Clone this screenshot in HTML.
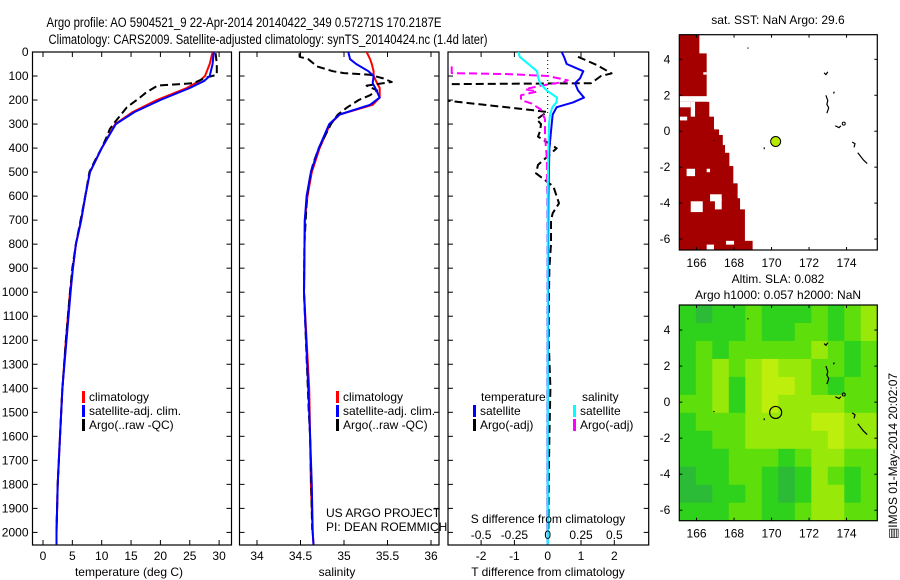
<!DOCTYPE html>
<html><head><meta charset="utf-8"><style>
html,body{margin:0;padding:0;background:#fff;}
svg{display:block;font-family:"Liberation Sans",sans-serif;}
</style></head><body>
<svg id="fig" width="900" height="580" viewBox="0 0 900 580" xmlns="http://www.w3.org/2000/svg">
<rect width="900" height="580" fill="#fff"/>
<text x="244" y="27" font-size="13.5" text-anchor="middle" textLength="395" lengthAdjust="spacingAndGlyphs">Argo profile: AO 5904521_9 22-Apr-2014 20140422_349 0.57271S 170.2187E</text>
<text x="268" y="44" font-size="13.5" text-anchor="middle" textLength="439" lengthAdjust="spacingAndGlyphs">Climatology: CARS2009. Satellite-adjusted climatology: synTS_20140424.nc (1.4d later)</text>
<g id="g"></g>
</svg>
<script>
// ---------- data ----------
const tempDepth = [0,50,100,120,150,200,250,300,400,500,600,700,800,900,1000,1200,1400,1600,1800,2000,2050];
const tempClim  = [28.9,28.4,27.6,26.7,24.5,19.4,15.3,12.3,10.0,8.0,7.2,6.5,5.6,5.1,4.6,3.9,3.3,2.9,2.5,2.3,2.3];
const tempSat   = [29.1,28.9,28.4,27.5,25.0,20.0,15.6,12.4,10.0,8.0,7.2,6.5,5.6,5.1,4.7,4.0,3.3,2.9,2.5,2.3,2.3];
const tempArgoDepth = [5,50,95,105,115,130,140,170,190,230,260,290,320,350,400,450,500,600,700,800,900,1000,1200,1400,1600,1800,1990];
const tempArgo  = [29.4,29.6,29.6,28.0,27.0,25.6,19.5,17.5,16.5,14.3,13.3,12.3,11.4,10.9,10.0,8.9,7.9,7.2,6.4,5.6,5.0,4.6,3.9,3.3,2.9,2.5,2.3];
const salDepth = [0,30,50,80,100,130,150,190,220,260,300,400,500,600,700,1000,1400,1600,1800,2000,2050];
const salClim  = [35.26,35.30,35.32,35.34,35.34,35.38,35.41,35.41,35.33,34.95,34.84,34.72,34.63,34.58,34.55,34.54,34.60,34.61,34.62,34.64,34.65];
const salSat   = [35.05,35.07,35.14,35.28,35.34,35.33,35.36,35.41,35.30,34.95,34.83,34.71,34.62,34.57,34.55,34.54,34.59,34.61,34.63,34.64,34.65];
const salArgoDepth = [5,20,30,60,80,88,95,110,125,140,160,180,200,230,260,300,350,400,460,500,600,800,1000,1500,1600,1990];
const salArgo  = [34.49,34.49,34.59,34.69,34.87,35.0,35.30,35.45,35.55,35.26,35.38,35.30,35.17,35.04,34.93,34.85,34.78,34.71,34.65,34.62,34.575,34.545,34.54,34.595,34.61,34.635];
const diffDepth = [0,20,50,80,110,130,160,190,210,230,260,300,400,600,1000,1500,2050];
const tDiffSat  = [0.42,0.49,0.57,1.07,0.97,0.82,0.91,1.09,0.76,0.27,0.15,0.12,0.05,0.02,0.01,0.0,0.0];
const sDiffSat  = [-0.22,-0.21,-0.145,-0.08,-0.07,-0.058,-0.008,0.07,0.065,0.035,0.017,0.01,0.005,0.0,0.0,0.0,0.0];
const sArgoDepth = [60,88,92,100,118,125,140,155,165,180,200,215,240,280,350,450,600,800,1200,1600,1990];
const sDiffArgo  = [-0.72,-0.72,-0.3,0.0,0.15,0.12,-0.05,-0.17,-0.08,-0.2,-0.2,-0.12,-0.05,-0.02,-0.02,-0.005,-0.003,-0.002,-0.002,-0.002,-0.002];
const tArgoDepth = [20,54,89,100,130,134,200,241,250,280,300,330,352,401,470,505,560,630,671,700,800,900,1000,1200,1400,1600,1800,1990];
const tDiffArgo  = [0.91,1.47,1.92,1.6,1.3,-3.2,-3.2,-0.53,-0.02,-0.33,-0.2,-0.23,-0.29,0.27,-0.29,-0.35,0.17,0.34,0.15,0.1,0.1,0.05,0.04,0.03,0.08,0.05,0.03,0.02];
const depthTicks = [0,100,200,300,400,500,600,700,800,900,1000,1100,1200,1300,1400,1500,1600,1700,1800,1900,2000];
const tempTicks = [0,5,10,15,20,25,30];
const salTicks = [34,34.5,35,35.5,36];
const tDiffTicks = [-2,-1,0,1,2];
const sDiffTicks = [-0.5,-0.25,0,0.25,0.5];
const sDiffTickLabels = ["-0.5","-0.25","0","0.25","0.5"];
const lonTicks = [166,168,170,172,174];
const latTicks = [4,2,0,-2,-4,-6];
const argoLon = 170.2187, argoLat = -0.5727;
const sstBandTop = [5.37,4.33,1.64,0.81,0.1,-0.21,-0.77,-1.2,-1.94,-2.9,-3.73,-4.35,-6.1];
const sstBandBot = [4.33,1.64,0.81,0.1,-0.21,-0.77,-1.2,-1.94,-2.9,-3.73,-4.35,-6.1,-6.61];
const sstBandLon = [166.15,166.54,166.68,166.93,167.2,167.4,167.52,167.75,167.96,168.19,168.32,168.58,168.99];
const sstHoles = [[1.95,1.64,165.08,166.7],[1.64,1.33,165.08,165.69],[1.64,0.81,165.69,165.92],[0.81,0.6,165.08,165.5],[3.28,3.15,166.36,166.54],[-2.09,-2.5,165.47,165.92],[-2.09,-2.28,166.54,166.72],[-3.9,-4.5,165.69,166.33],[-3.51,-3.9,166.72,167.34],[-3.73,-4.35,166.98,167.34],[-6.1,-6.31,167.57,168.0],[-6.31,-6.61,166.54,166.93]];
const slaGrid = [
[1,0,1,1,2,1,1,1,2,1,2,3],
[1,1,1,1,2,1,1,2,2,1,2,3],
[1,2,1,2,2,2,2,2,3,2,1,2],
[1,2,3,2,3,4,3,3,2,2,1,2],
[1,2,3,1,3,4,4,3,2,1,2,2],
[2,2,3,1,3,4,3,3,3,3,2,2],
[1,2,2,2,3,3,3,3,4,4,3,3],
[1,1,2,2,3,3,3,3,3,4,3,3],
[1,1,1,2,2,2,1,2,3,3,2,2],
[0,1,1,2,2,1,0,1,3,2,1,2],
[0,0,1,1,2,1,0,1,3,3,1,2],
[1,1,1,2,2,1,1,2,3,3,2,2]];
const slaColors = ["#2cbb36","#2ed21c","#5ede0a","#98e80a","#bdee0c"];

// ---------- helpers ----------
const NS="http://www.w3.org/2000/svg";
const G=document.getElementById('g');
function mk(tag,at,parent){const e=document.createElementNS(NS,tag);for(const k in at)e.setAttribute(k,at[k]);(parent||G).appendChild(e);return e;}
function txt(x,y,s,size,anchor,parent){const t=mk('text',{x:x,y:y,'font-size':size,'text-anchor':anchor||'middle'},parent);t.textContent=s;return t;}
const Y=d=>52+d*0.2402;
const TOP=52,BOT=545;

function panel(name,x0,x1,xs,xt,xtl,showDepth){
  const g=mk('g',{});
  
  
  const cp=mk('clipPath',{id:'cp-'+name},g);
  mk('rect',{x:x0,y:TOP,width:x1-x0,height:BOT-TOP},cp);
  const frame=mk('rect',{x:x0,y:TOP,width:x1-x0,height:BOT-TOP,fill:'none',stroke:'#000','stroke-width':1.2},g);
  
  
  depthTicks.forEach(d=>{
    const y=Y(d);
    mk('line',{x1:x0,y1:y,x2:x0+5,y2:y,stroke:'#000'},g);
    mk('line',{x1:x1-5,y1:y,x2:x1,y2:y,stroke:'#000'},g);
    if(showDepth){const t=txt(x0-4,y+4,String(d),12,'end',g);
      
      }
  });
  xt.forEach((v,i)=>{
    const x=xs(v);
    mk('line',{x1:x,y1:TOP,x2:x,y2:TOP+5,stroke:'#000'},g);
    mk('line',{x1:x,y1:BOT-5,x2:x,y2:BOT,stroke:'#000'},g);
    const t=txt(x,560,xtl?xtl[i]:String(v),12,'middle',g);
    
    
  });
  const lines=mk('g',{'clip-path':'url(#cp-'+name+')'},g);
  return lines;
}
function series(parent,name,depths,vals,xs,color,dashed){
  const pts=depths.map((d,i)=>xs(vals[i]).toFixed(1)+','+Y(d).toFixed(1)).join(' ');
  const p=mk('polyline',{points:pts,fill:'none',stroke:color,'stroke-width':2,'stroke-dasharray':dashed?'8,4':'none','stroke-linejoin':'round'},parent);
  
  
}
function legend(parent,x,y,color,label,name){
  const r=mk('rect',{x:x,y:y-10,width:3,height:12,fill:color},parent);
  
  
  const t=txt(x+7,y,label,12,'start',parent);
  
  
}

// ---------- temperature panel ----------
const xT=v=>43+v*5.87;
const pT=panel('temperature-panel',32.5,231.5,xT,tempTicks,null,true);
series(pT,'temp-climatology-line',tempDepth,tempClim,xT,'#ff0000',false);
series(pT,'temp-argo-line',tempArgoDepth,tempArgo,xT,'#000',true);
series(pT,'temp-satellite-line',tempDepth,tempSat,xT,'#0000ff',false);
legend(G,82,401,'#ff0000','climatology','legend-climatology');
legend(G,82,415,'#0000ff','satellite-adj. clim.','legend-satellite');
legend(G,82,429,'#000','Argo(..raw -QC)','legend-argo');
let t=txt(129,576,'temperature (deg C)',12);



// ---------- salinity panel ----------
const xS=v=>257+(v-34)*87;
const pS=panel('salinity-panel',239.5,439,xS,salTicks,null,false);
series(pS,'sal-climatology-line',salDepth,salClim,xS,'#ff0000',false);
series(pS,'sal-argo-line',salArgoDepth,salArgo,xS,'#000',true);
series(pS,'sal-satellite-line',salDepth,salSat,xS,'#0000ff',false);
legend(G,336,401,'#ff0000','climatology','legend-sal-climatology');
legend(G,336,415,'#0000ff','satellite-adj. clim.','legend-sal-satellite');
legend(G,336,429,'#000','Argo(..raw -QC)','legend-sal-argo');
t=txt(326,517,'US ARGO PROJECT',12,'start');


t=txt(326,531,'PI: DEAN ROEMMICH',12,'start');


t=txt(337,576,'salinity',12);



// ---------- difference panel ----------
const xD=v=>547.7+v*33.3;
const xSD=v=>547.7+v*133.3;
const pD=panel('difference-panel',448,648.7,xD,tDiffTicks,null,false);
const zl=mk('line',{x1:547.7,y1:TOP,x2:547.7,y2:Y(260),stroke:'#000','stroke-dasharray':'1,3'},pD);


series(pD,'t-diff-argo-line',tArgoDepth,tDiffArgo,xD,'#000',true);
series(pD,'s-diff-argo-line',sArgoDepth,sDiffArgo,xSD,'#ff00ff',true);
series(pD,'t-diff-satellite-line',diffDepth,tDiffSat,xD,'#0000ff',false);
series(pD,'s-diff-satellite-line',diffDepth,sDiffSat,xSD,'#00ffff',false);
t=txt(481,401,'temperature',12,'start');


t=txt(582,401,'salinity',12,'start');


legend(G,473,415,'#0000ff','satellite','legend-t-satellite');
legend(G,473,429,'#000','Argo(-adj)','legend-t-argo');
legend(G,573,415,'#00ffff','satellite','legend-s-satellite');
legend(G,573,429,'#ff00ff','Argo(-adj)','legend-s-argo');
t=txt(548,523,'S difference from climatology',12);


sDiffTicks.forEach((v,i)=>{const l=txt(xSD(v),539,sDiffTickLabels[i],12);
  
  });
t=txt(548,576,'T difference from climatology',12);



// ---------- maps ----------
function mapAxes(name,x0,x1,y0,y1,lonL,lonR,latT,latB){
  const lx=v=>x0+(v-lonL)/(lonR-lonL)*(x1-x0);
  const ly=v=>y0+(latT-v)/(latT-latB)*(y1-y0);
  const g=mk('g',{});
  
  
  const cp=mk('clipPath',{id:'cp-'+name},g);
  mk('rect',{x:x0,y:y0,width:x1-x0,height:y1-y0},cp);
  const inner=mk('g',{'clip-path':'url(#cp-'+name+')'},g);
  return {g,inner,lx,ly,finish(){
    mk('rect',{x:x0,y:y0,width:x1-x0,height:y1-y0,fill:'none',stroke:'#000','stroke-width':1.2},g);
    lonTicks.forEach(v=>{const x=lx(v);
      mk('line',{x1:x,y1:y0,x2:x,y2:y0+3,stroke:'#000'},g);
      mk('line',{x1:x,y1:y1-3,x2:x,y2:y1,stroke:'#000'},g);
      const l=txt(x,y1+17,String(v),12,'middle',g);
      
      });
    latTicks.forEach(v=>{const y=ly(v);
      mk('line',{x1:x0,y1:y,x2:x0+3,y2:y,stroke:'#000'},g);
      mk('line',{x1:x1-3,y1:y,x2:x1,y2:y,stroke:'#000'},g);
      const l=txt(x0-9,y+4,String(v),12,'end',g);
      
      });
  }};
}
function coast(m){
  const segs=[[[168.72,4.65],[168.76,4.6]],[[172.8,3.25],[172.9,3.15],[173.0,3.3]],[[172.9,2.0],[173.0,1.7],[172.95,1.5],[173.05,1.3],[172.95,1.0]],[[173.3,2.1],[173.35,2.2]],[[173.4,0.3],[173.6,0.2],[173.7,0.3]],[[174.3,-0.6],[174.45,-0.7],[174.4,-0.9]],[[174.6,-1.2],[174.9,-1.6],[175.1,-1.8]],[[169.6,-0.9],[169.62,-1.0]],[[166.9,-0.5],[166.95,-0.55]]];
  segs.forEach(s=>{const p=mk('polyline',{points:s.map(q=>m.lx(q[0])+','+m.ly(q[1])).join(' '),fill:'none',stroke:'#000','stroke-width':1.2},m.inner);
    
    });
  const c=mk('circle',{cx:m.lx(173.85),cy:m.ly(0.42),r:1.5,fill:'none',stroke:'#000'},m.inner);
  
  
}
const m1=mapAxes('sst-map',679.3,877.3,34.7,250,165.08,175.64,5.37,-6.61);
sstBandLon.forEach((lon,i)=>{
  const r=mk('rect',{x:m1.lx(165.08),y:m1.ly(sstBandTop[i]),width:m1.lx(lon)-m1.lx(165.08),height:m1.ly(sstBandBot[i])-m1.ly(sstBandTop[i])+0.5,fill:'#a50000'},m1.inner);
  
  
});
sstHoles.forEach(h=>{
  const r=mk('rect',{x:m1.lx(h[2]),y:m1.ly(h[0]),width:m1.lx(h[3])-m1.lx(h[2]),height:m1.ly(h[1])-m1.ly(h[0]),fill:'#fff'},m1.inner);
  
  
});
coast(m1);
let c=mk('circle',{cx:m1.lx(argoLon),cy:m1.ly(argoLat),r:5,fill:'#b8ea00',stroke:'#000','stroke-width':1},m1.inner);


m1.finish();
t=txt(778,24,'sat. SST: NaN Argo: 29.6',12);


const m2=mapAxes('sla-map',679.3,877.3,305,520.7,165.08,175.64,5.39,-6.58);
const nr=slaGrid.length,nc=slaGrid[0].length;
const cw=(877.3-679.3)/nc,ch=(520.7-305)/nr;
slaGrid.forEach((row,i)=>row.forEach((v,j)=>{
  const r=mk('rect',{x:679.3+j*cw,y:305+i*ch,width:cw+0.5,height:ch+0.5,fill:slaColors[v]},m2.inner);
  
  
}));
coast(m2);
c=mk('circle',{cx:m2.lx(argoLon),cy:m2.ly(argoLat),r:6,fill:'none',stroke:'#000','stroke-width':1.2},m2.inner);


m2.finish();
t=txt(778,283,'Altim. SLA: 0.082',12);


t=txt(778,299,'Argo h1000: 0.057 h2000: NaN',12);


t=mk('text',{x:0,y:0,'font-size':12,'text-anchor':'middle',transform:'translate(897,456) rotate(-90)'});
t.textContent='\u25A4IMOS 01-May-2014 20:02:07';


</script>
</body></html>
